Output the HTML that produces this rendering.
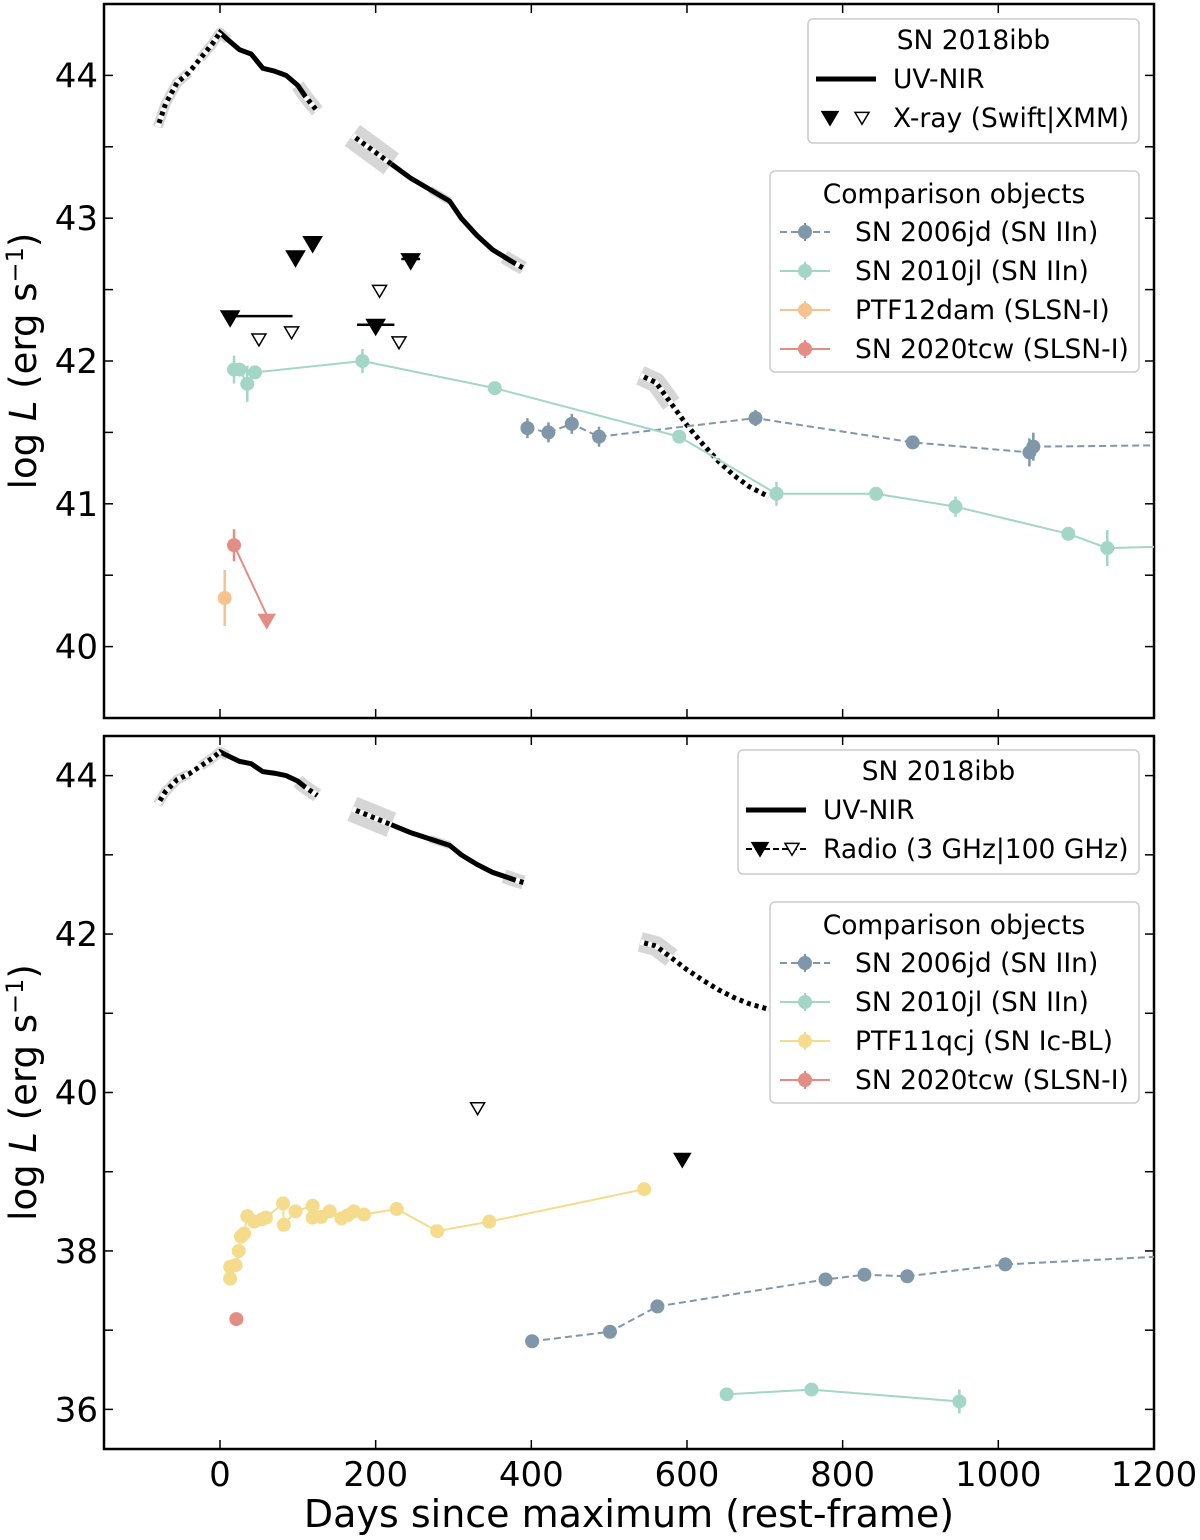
<!DOCTYPE html>
<html><head><meta charset="utf-8"><style>
body{margin:0;background:#fff}
svg{font-family:"DejaVu Sans","Liberation Sans",sans-serif}
</style></head><body>
<svg id="chart" width="1200" height="1535" xmlns="http://www.w3.org/2000/svg"></svg>
<script>
// ---- data ----
const uvSeg1 = [[-80,43.64],[-70,43.8],[-55,43.95],[-40,44.02],[-25,44.12],[-10,44.22],[0,44.3],[10,44.25],[25,44.18],[40,44.15],[55,44.05],[70,44.03],[85,44.0],[100,43.93],[110,43.85],[125,43.75]];
const uvSeg1Solid = [0,110];
const uvSeg2 = [[170,43.58],[195,43.48],[220,43.38],[245,43.28],[270,43.2],[295,43.12],[310,43.0],[330,42.88],[350,42.78],[365,42.73],[380,42.68],[390,42.65]];
const uvSeg2Solid = [220,380];
const uvSeg3 = [[540,41.9],[560,41.85],[580,41.7],[600,41.55],[620,41.42],[640,41.3],[660,41.2],[680,41.12],[705,41.05]];
const xrayFilled = [[13,42.3,80],[97,42.72,0],[119,42.82,0],[200,42.24,24],[245,42.7,12]];
const xrayOpen = [[50,42.15],[92,42.2],[205,42.49],[230,42.13]];
const top06jd = [[395,41.53],[422,41.5],[452,41.56],[487,41.47],[688,41.6],[890,41.43],[1040,41.36],[1045,41.4],[1210,41.41]];
const top10jl = [[18,41.94],[25,41.94],[35,41.84],[45,41.92],[183,42.0],[353,41.81],[590,41.47],[715,41.07],[843,41.07],[945,40.98],[1090,40.79],[1140,40.69],[1210,40.7]];
const topPTF12dam = [[6,40.34]];
const top20tcw = [[18,40.71]];
const top20tcwLimit = [[60,40.18]];
const radioOpen = [[331,39.8]];
const radioFilled = [[594,39.15]];
const bot11qcj = [[13,37.65],[13,37.8],[20,37.82],[24,38.0],[27,38.18],[31,38.22],[35,38.44],[44,38.37],[54,38.4],[59,38.42],[81,38.6],[82,38.33],[97,38.5],[119,38.57],[119,38.42],[130,38.43],[141,38.5],[156,38.41],[164,38.45],[172,38.5],[185,38.46],[227,38.53],[279,38.25],[346,38.37],[545,38.78]];
const bot20tcw = [[21,37.14]];
const bot06jd = [[401,36.86],[501,36.98],[562,37.3],[778,37.64],[828,37.7],[883,37.68],[1009,37.83],[1210,37.93]];
const bot10jl = [[651,36.19],[760,36.25],[950,36.1]];
const xTicks = [0,200,400,600,800,1000,1200];
const yTicksTop = [40,41,42,43,44];
const yTicksBot = [36,38,40,42,44];

const NS="http://www.w3.org/2000/svg";
const svg=document.getElementById('chart');
function mk(tag,attrs,parent){const e=document.createElementNS(NS,tag);for(const k in attrs)e.setAttribute(k,attrs[k]);(parent||svg).appendChild(e);return e;}
const L=104,R=1154;
const X=d=>220+d*0.7783;
function panel(top,bot,ymin,ymax){return {top,bot,Y:v=>bot-(v-ymin)/(ymax-ymin)*(bot-top)};}
const P1=panel(4,718,39.5,44.5), P2=panel(736,1449,35.5,44.5);
const C06='#7f97a8',C10='#a3d6c6',C12='#f6c28e',C20='#e38d84',C11='#f5dc8c';

function drawAxes(P,ticks,minor,name,showX){
  const g=mk('g',{});
  
  mk('rect',{x:L,y:P.top,width:R-L,height:P.bot-P.top,fill:'none',stroke:'#000','stroke-width':2.5},g);
  xTicks.forEach(t=>{const x=X(t);if(x>R+2)return;
    mk('line',{x1:x,x2:x,y1:P.bot,y2:P.bot-9,stroke:'#000','stroke-width':1.5},g);
    mk('line',{x1:x,x2:x,y1:P.top,y2:P.top+9,stroke:'#000','stroke-width':1.5},g);
    if(showX){const t2=mk('text',{x:x,y:P.bot+37,'font-size':34,'text-anchor':'middle'},g);t2.textContent=t;
      }
  });
  minor.forEach(v=>{const y=P.Y(v);
    mk('line',{x1:L,x2:L+9,y1:y,y2:y,stroke:'#000','stroke-width':1.5},g);
    mk('line',{x1:R,x2:R-9,y1:y,y2:y,stroke:'#000','stroke-width':1.5},g);});
  ticks.forEach(v=>{const y=P.Y(v);
    const t=mk('text',{x:98,y:y+12,'font-size':34,'text-anchor':'end'},g);t.textContent=v;
    });
  const yl=mk('text',{transform:`translate(36,${(P.top+P.bot)/2}) rotate(-90)`,'font-size':37,'text-anchor':'middle'},g);
  
  yl.innerHTML='log <tspan font-style="italic">L</tspan> (erg s<tspan dy="-13" font-size="24">−1</tspan><tspan dy="13">)</tspan>';
}
drawAxes(P1,yTicksTop,[40,40.5,41,41.5,42,42.5,43,43.5,44],'top-panel',false);
drawAxes(P2,yTicksBot,[36,37,38,39,40,41,42,43,44],'bottom-panel',true);
const xl=mk('text',{x:629,y:1527,'font-size':38,'text-anchor':'middle'});xl.textContent='Days since maximum (rest-frame)';


function clip(P,id){const d=mk('clipPath',{id});mk('rect',{x:L,y:P.top,width:R-L,height:P.bot-P.top},d);return `url(#${id})`;}
const cp1=clip(P1,'c1'),cp2=clip(P2,'c2');
function pts(arr,P){return arr.map(p=>X(p[0])+','+P.Y(p[1])).join(' ');}

function uv(seg,solid,bands,P,name,cp){
  const g=mk('g',{'clip-path':cp});
  bands.forEach(b=>{const pp=seg.filter(p=>p[0]>=b[0]&&p[0]<=b[1]);
    if(pp.length>1)mk('polyline',{points:pts(pp,P),fill:'none',stroke:'#d6d6d6','stroke-width':b[2],'stroke-linejoin':'round'},g);});
  mk('polyline',{points:pts(seg,P),fill:'none',stroke:'#000','stroke-width':5},g);
  const parts=solid?[seg.filter(p=>p[0]<=solid[0]),seg.filter(p=>p[0]>=solid[1])]:[seg];
  parts.forEach(pp=>{if(pp.length>1)mk('polyline',{points:pts(pp,P),fill:'none',stroke:'#fff','stroke-width':5.5,'stroke-dasharray':'4 4'},g);});
}
[[P1,cp1,'top'],[P2,cp2,'bottom']].forEach(([P,cp,n])=>{
  uv(uvSeg1,uvSeg1Solid,[[-80,-40,10],[-25,10,10],[100,125,14]],P,n+'-uvnir-seg1',cp);
  uv(uvSeg2,uvSeg2Solid,[[170,220,26],[270,295,8],[365,390,14]],P,n+'-uvnir-seg2',cp);
  uv(uvSeg3,null,[[540,580,20]],P,n+'-uvnir-seg3',cp);
});

function series(arr,P,col,name,cp,dashed,err){
  const g=mk('g',{'clip-path':cp});
  if(arr.length>1)mk('polyline',{points:pts(arr,P),fill:'none',stroke:col,'stroke-width':2,'stroke-dasharray':dashed?'7 4':'none'},g);
  arr.forEach((p,i)=>{const x=X(p[0]),y=P.Y(p[1]);
    if(err&&err[i]){mk('line',{x1:x,x2:x,y1:y-err[i],y2:y+err[i],stroke:col,'stroke-width':2.5},g);}
    const c=mk('circle',{cx:x,cy:y,r:7,fill:col},g);
    });
}
function tri(x,y,filled,s,g,col){col=col||'#000';
  return mk('polygon',{points:`${x-s},${y-s*0.8} ${x+s},${y-s*0.8} ${x},${y+s*0.9}`,fill:filled?col:'#fff',stroke:col,'stroke-width':1.5},g);}

series(top06jd,P1,C06,'sn2006jd-xray',cp1,true,[10,10,10,10,8,0,14,14,0]);
series(top10jl,P1,C10,'sn2010jl-xray',cp1,false,[14,0,18,0,12,0,0,12,0,10,0,18,0]);
series(topPTF12dam,P1,C12,'ptf12dam-xray',cp1,false,[28]);
series(top20tcw,P1,C20,'sn2020tcw-xray',cp1,false,[16]);
(function(){const g=mk('g',{});
  const a=top20tcw[0],b=top20tcwLimit[0];
  mk('line',{x1:X(a[0]),y1:P1.Y(a[1]),x2:X(b[0]),y2:P1.Y(b[1])-6,stroke:C20,'stroke-width':2},g);
  tri(X(b[0]),P1.Y(b[1]),true,8,g,C20);})();
(function(){const g=mk('g',{});
  xrayFilled.forEach(p=>{const x=X(p[0]),y=P1.Y(p[1]);
    if(p[2]){mk('line',{x1:x-p[2]*0.78*(p[0]===13?0:1),x2:x+p[2]*0.78,y1:y-2,y2:y-2,stroke:'#000','stroke-width':2.5},g);}
    tri(x,y,true,9,g);});
  xrayOpen.forEach(p=>tri(X(p[0]),P1.Y(p[1]),false,7,g));})();

series(bot11qcj,P2,C11,'ptf11qcj-radio',cp2,false,null);
series(bot20tcw,P2,C20,'sn2020tcw-radio',cp2,false,null);
series(bot06jd,P2,C06,'sn2006jd-radio',cp2,true,null);
series(bot10jl,P2,C10,'sn2010jl-radio',cp2,false,[0,0,12]);
(function(){const g=mk('g',{});
  radioOpen.forEach(p=>tri(X(p[0]),P2.Y(p[1]),false,7,g));
  radioFilled.forEach(p=>tri(X(p[0]),P2.Y(p[1]),true,8,g));})();

function box(x,y,w,h,name){const g=mk('g',{});
  mk('rect',{x,y,width:w,height:h,rx:5,fill:'#fff',stroke:'#ccc','stroke-width':1.5},g);return g;}
function txt(g,x,y,s,anchor){const t=mk('text',{x,y,'font-size':26.5,'text-anchor':anchor||'start'},g);t.textContent=s;return t;}
function entry(g,x,y,col,label,dashed){
  const e=mk('g',{},g);
  mk('line',{x1:x,x2:x+50,y1:y,y2:y,stroke:col,'stroke-width':2,'stroke-dasharray':dashed?'7 4':'none'},e);
  mk('line',{x1:x+25,x2:x+25,y1:y-9,y2:y+9,stroke:col,'stroke-width':2},e);
  mk('circle',{cx:x+25,cy:y,r:7,fill:col},e);
  txt(e,x+75,y+9,label);}
function ibbLegend(x,y,w,last,lastx,radio){
  const g=box(x,y,w,124,'sn2018ibb-legend');
  txt(g,x+w/2,y+30,'SN 2018ibb','middle');
  const e1=mk('g',{},g);
  mk('line',{x1:lastx,x2:lastx+60,y1:y+60,y2:y+60,stroke:'#000','stroke-width':5},e1);
  txt(e1,lastx+77,y+69,'UV-NIR');
  const e2=mk('g',{},g);
  if(radio)mk('line',{x1:lastx,x2:lastx+60,y1:y+99,y2:y+99,stroke:'#000','stroke-width':2,'stroke-dasharray':'6 3'},e2);
  tri(lastx+14,y+99,true,8,e2);tri(lastx+46,y+99,false,7,e2);
  txt(e2,lastx+77,y+108,last);}
ibbLegend(808,19,331,'X-ray (Swift|XMM)',816,false);
ibbLegend(738,750,401,'Radio (3 GHz|100 GHz)',746,true);
function compLegend(y,third,thirdCol){
  const g=box(770,y,369,201,'comparison-legend');
  txt(g,954,y+32,'Comparison objects','middle');
  entry(g,780,y+61,C06,'SN 2006jd (SN IIn)',true);
  entry(g,780,y+100,C10,'SN 2010jl (SN IIn)');
  entry(g,780,y+139,thirdCol,third);
  entry(g,780,y+178,C20,'SN 2020tcw (SLSN-I)');}
compLegend(171,'PTF12dam (SLSN-I)',C12);
compLegend(902,'PTF11qcj (SN Ic-BL)',C11);
</script>
</body></html>
